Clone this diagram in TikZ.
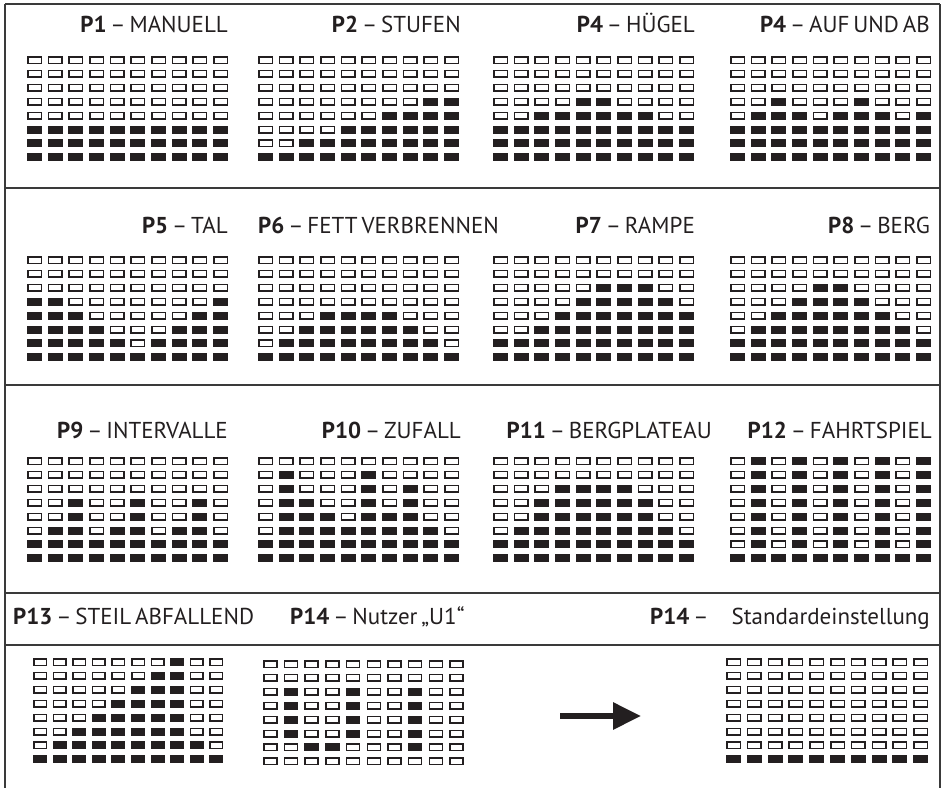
\documentclass[tikz,border=0pt]{standalone}
\usepackage{fontspec}
\setmainfont{PT Sans}
\usetikzlibrary{arrows.meta}
\definecolor{ink}{HTML}{231F20}
\definecolor{rulec}{HTML}{3A3A3A}
\newcommand{\lblfont}{\fontsize{23}{26}\selectfont\spaceskip=0.17em\relax}
\tikzset{
  frame/.style={draw=rulec, line width=1.3pt},
  celloff/.style={draw=ink, fill=white, line width=1.5pt},
  cellon/.style={fill=ink},
  lbl/.style={font=\lblfont, text=ink, inner sep=0pt},
  bigarrow/.style={draw=ink, line width=6pt, -{Triangle[length=28pt,width=26pt]}},
}
% #1 x of first cell, #2 y centre of first row, #3 column pitch, #4 cell width, #5 filled columns per row
\newcommand{\pgrid}[5]{%
  \foreach \r in {1,2,3,4,5,6,7,8}{\foreach \c in {1,2,3,4,5,6,7,8,9,10}{
    \draw[celloff] ({#1+(\c-1)*#3+0.75},{#2+(\r-1)*13.9-3.25}) rectangle ++({#4-1.5},6.5);}}
  \foreach \cols [count=\r] in {#5}{\foreach \c in \cols {\ifnum\c>0
    \fill[cellon] ({#1+(\c-1)*#3},{#2+(\r-1)*13.9-4}) rectangle ++(#4,8);\fi}}
}
\begin{document}
\begin{tikzpicture}[x=1pt,y=-1pt]
\useasboundingbox (0,0) rectangle (944,788);
% frame
\coordinate (tl) at (5,4); \coordinate (tr) at (940,4);
\coordinate (bl) at (5,788); \coordinate (br) at (940,788);
\draw[frame] (tl) -- (tr);
\draw[frame] (tl) -- (bl);
\draw[frame] (tr) -- (br);
\draw[frame] (5,188) -- (940,188);
\draw[frame] (5,385) -- (940,385);
\draw[frame] (5,593) -- (940,593);
\draw[frame] (5,645) -- (940,645);

% row 1
\node[lbl, anchor=base east] (l1) at (228,32) {\textbf{P1} – MANUELL};
\node[lbl, anchor=base east] (l2) at (461,32) {\textbf{P2} – STUFEN};
\node[lbl, anchor=base east] (l3) at (695,32) {\textbf{P4} – HÜGEL};
\node[lbl, anchor=base east] (l4) at (930,32) {\textbf{P4} – AUF UND AB};
\pgrid{27}{60}{20.67}{15}{{0},{0},{0},{0},{0},{1,2,3,4,5,6,7,8,9,10},{1,2,3,4,5,6,7,8,9,10},{1,2,3,4,5,6,7,8,9,10}}
\pgrid{258}{60}{20.67}{15}{{0},{0},{0},{9,10},{7,8,9,10},{5,6,7,8,9,10},{3,4,5,6,7,8,9,10},{1,2,3,4,5,6,7,8,9,10}}
\pgrid{493}{60}{20.67}{15}{{0},{0},{0},{5,6},{3,4,5,6,7,8},{1,2,3,4,5,6,7,8,9,10},{1,2,3,4,5,6,7,8,9,10},{1,2,3,4,5,6,7,8,9,10}}
\pgrid{730}{60}{20.67}{15}{{0},{0},{0},{3,7},{2,3,4,6,7,8,10},{1,2,3,4,5,6,7,8,9,10},{1,2,3,4,5,6,7,8,9,10},{1,2,3,4,5,6,7,8,9,10}}

% row 2
\node[lbl, anchor=base east] (l5) at (228,233) {\textbf{P5} – TAL};
\node[lbl, anchor=base west] (l6) at (258,233) {\textbf{P6} – FETT VERBRENNEN};
\node[lbl, anchor=base east] (l7) at (695,233) {\textbf{P7} – RAMPE};
\node[lbl, anchor=base east] (l8) at (930,233) {\textbf{P8} – BERG};
\pgrid{27}{260}{20.67}{15}{{0},{0},{0},{1,2,10},{1,2,3,9,10},{1,2,3,4,8,9,10},{1,2,3,4,5,7,8,9,10},{1,2,3,4,5,6,7,8,9,10}}
\pgrid{258}{260}{20.67}{15}{{0},{0},{0},{0},{4,5,6,7},{3,4,5,6,7,8},{2,3,4,5,6,7,8,9},{1,2,3,4,5,6,7,8,9,10}}
\pgrid{493}{260}{20.67}{15}{{0},{0},{6,7,8},{5,6,7,8,9},{4,5,6,7,8,9,10},{3,4,5,6,7,8,9,10},{1,2,3,4,5,6,7,8,9,10},{1,2,3,4,5,6,7,8,9,10}}
\pgrid{730}{260}{20.67}{15}{{0},{0},{5,6},{4,5,6,7},{3,4,5,6,7,8},{2,3,4,5,6,7,8,9},{1,2,3,4,5,6,7,8,9,10},{1,2,3,4,5,6,7,8,9,10}}

% row 3
\node[lbl, anchor=base east] (l9) at (228,438) {\textbf{P9} – INTERVALLE};
\node[lbl, anchor=base east] (l10) at (461,438) {\textbf{P10} – ZUFALL};
\node[lbl, anchor=base east] (l11) at (712,438) {\textbf{P11} – BERGPLATEAU};
\node[lbl, anchor=base east] (l12) at (932,438) {\textbf{P12} – FAHRTSPIEL};
\pgrid{27}{461}{20.67}{15}{{0},{0},{0},{3,6,9},{3,6,9},{2,3,5,6,8,9},{1,2,3,4,5,6,7,8,9,10},{1,2,3,4,5,6,7,8,9,10}}
\pgrid{258}{461}{20.67}{15}{{0},{2,6},{2,6,8},{2,3,6,8},{2,3,4,6,7,8},{2,3,4,5,6,7,8,9},{1,2,3,4,5,6,7,8,9,10},{1,2,3,4,5,6,7,8,9,10}}
\pgrid{493}{461}{20.67}{15}{{0},{0},{4,5,6,7},{3,4,5,6,7,8},{3,4,5,6,7,8},{2,3,4,5,6,7,8,9},{1,2,3,4,5,6,7,8,9,10},{1,2,3,4,5,6,7,8,9,10}}
\pgrid{730}{461}{20.67}{15}{{2,4,6,8,10},{2,4,6,8,10},{2,4,6,8,10},{2,4,6,8,10},{2,4,6,8,10},{2,4,6,8,10},{2,4,6,8,10},{1,2,3,4,5,6,7,8,9,10}}

% row 4
\node[lbl, anchor=base west] (l13) at (13,624) {\textbf{P13} – STEIL ABFALLEND};
\node[lbl, anchor=base west] (l14) at (290,624) {\textbf{P14} – Nutzer „U1“};
\node[lbl, anchor=base west] (l15a) at (650,624) {\textbf{P14} –};
\node[lbl, anchor=base east] (l15b) at (930,624) {Standardeinstellung};
\pgrid{33}{662}{19.6}{14}{{8},{7,8},{6,7,8},{5,6,7,8},{4,5,6,7,8},{3,4,5,6,7,8},{2,3,4,5,6,7,8,9},{1,2,3,4,5,6,7,8,9,10}}
\pgrid{263}{664}{20.7}{14.5}{{0},{0},{2,5,8},{2,5,8},{2,5,8},{2,5,8},{3,4,8},{0}}
\pgrid{726}{662}{20.8}{15}{{0},{0},{0},{0},{0},{0},{0},{1,2,3,4,5,6,7,8,9,10}}
\coordinate (arrS) at (560,716);
\coordinate (arrE) at (641,716);
\draw[bigarrow] (arrS) -- (arrE);
\end{tikzpicture}
\end{document}
